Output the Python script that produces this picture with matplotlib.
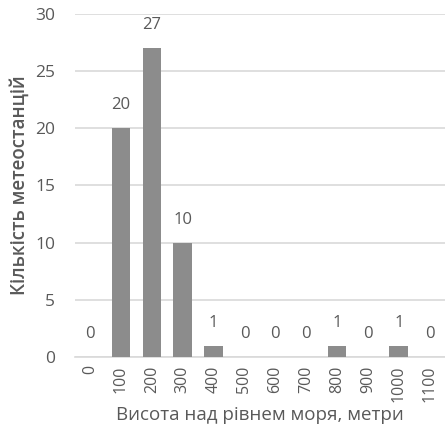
import matplotlib
matplotlib.use('Agg')
import matplotlib.pyplot as plt

heights = ['0', '100', '200', '300', '400', '500', '600', '700', '800', '900', '1000', '1100']
counts = [0, 20, 27, 10, 1, 0, 0, 0, 1, 0, 1, 0]
yticks = [0, 5, 10, 15, 20, 25, 30]

plt.rcParams['font.family'] = ['Open Sans', 'DejaVu Sans']
TXT = '#595959'

fig = plt.figure(figsize=(4.45, 4.38), dpi=100)
ax = fig.add_axes([0.168, 0.185, 0.832, 0.783])

x = range(len(heights))
bars = ax.bar(x, counts, width=0.6, color='#8c8c8c', zorder=3)
for xi, c in zip(x, counts):
    ax.text(xi, c + 1.3, str(c), ha='center', va='bottom', fontsize=12, color=TXT)

ax.set_xlim(-0.5, len(heights) - 0.5)
ax.set_ylim(0, 30)
ax.set_yticks(yticks)
ax.set_xticks(list(x))
ax.set_xticklabels(heights, rotation=90, fontsize=11.5, color=TXT)
ax.tick_params(axis='y', labelsize=12.5, colors=TXT, length=0, pad=14)
ax.tick_params(axis='x', length=0, pad=6)
ax.grid(axis='y', color='#d9d9d9', linewidth=1.2, zorder=0)
for s in ['top', 'right', 'left']:
    ax.spines[s].set_visible(False)
ax.spines['bottom'].set_color('#d9d9d9')
ax.spines['bottom'].set_linewidth(1.2)

ax.set_xlabel('Висота над рівнем моря, метри', fontsize=13.5, color=TXT, labelpad=3)
ax.set_ylabel('Кількість метеостанцій', fontsize=13.5, color=TXT, labelpad=4,
              fontweight='semibold')

fig.savefig('out.png', dpi=100)
